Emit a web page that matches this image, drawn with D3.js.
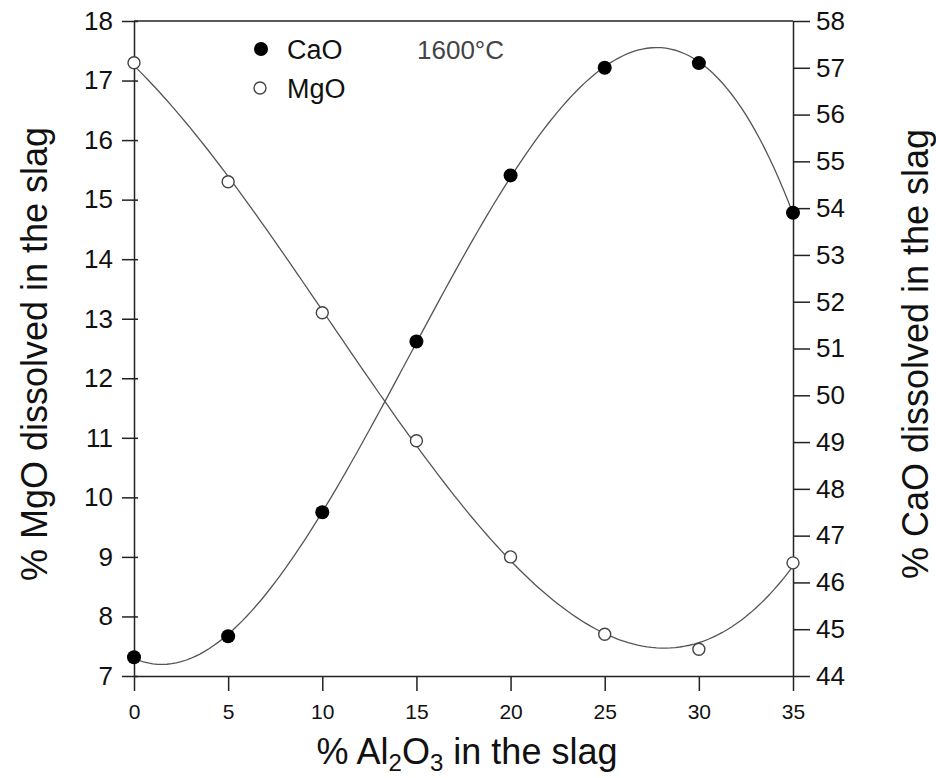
<!DOCTYPE html>
<html>
<head>
<meta charset="utf-8">
<script src="https://cdn.jsdelivr.net/npm/d3@7"></script>
<style>
  body { margin: 0; background: #fff; }
  text { font-family: "Liberation Sans", Arial, sans-serif; }
  .axis path, .axis line { stroke: #222; stroke-width: 1.5; }
</style>
</head>
<body>
<div id="chart"></div>
<script>
 //data
 var alumina = [0, 5, 10, 15, 20, 25, 30, 35];          // % Al2O3 in the slag
 var mgo = [17.3, 15.3, 13.1, 10.95, 9.0, 7.7, 7.45, 8.9]; // left axis
 var cao = [44.4, 44.85, 47.5, 51.15, 54.7, 57.0, 57.1, 53.9]; // right axis
 var xTicks = [0, 5, 10, 15, 20, 25, 30, 35];
 var mgoTicks = [7, 8, 9, 10, 11, 12, 13, 14, 15, 16, 17, 18];
 var caoTicks = [44, 45, 46, 47, 48, 49, 50, 51, 52, 53, 54, 55, 56, 57, 58];

 //size of the picture
 var W = 936, H = 778;
 var margin = { left: 134, right: 143, top: 21, bottom: 102 };
 var width = W - margin.left - margin.right,
     height = H - margin.top - margin.bottom;

 var svg = d3.select("#chart")
     .append("svg")
     .attr("width", W)
     .attr("height", H);

 var g = svg.append("g")
     .attr("transform", "translate(" + margin.left + "," + margin.top + ")");

 //scales
 var xScale = d3.scaleLinear().domain([0, 35]).range([0, width]);
 var yLeft = d3.scaleLinear().domain([7, 18]).range([height, 0]);
 var yRight = d3.scaleLinear().domain([44, 58]).range([height, 0]);

 //least squares cubic fit (trend line of the figure)
 function cubicFit(xs, ys) {
     var n = 4, A = [], i, j, k;
     for (i = 0; i < n; i++) {
         A.push([]);
         for (j = 0; j <= n; j++) A[i].push(0);
     }
     xs.forEach(function (x, p) {
         for (i = 0; i < n; i++) {
             for (j = 0; j < n; j++) A[i][j] += Math.pow(x, i + j);
             A[i][n] += ys[p] * Math.pow(x, i);
         }
     });
     for (i = 0; i < n; i++) {
         var piv = i;
         for (k = i + 1; k < n; k++) if (Math.abs(A[k][i]) > Math.abs(A[piv][i])) piv = k;
         var t = A[i]; A[i] = A[piv]; A[piv] = t;
         for (k = i + 1; k < n; k++) {
             var f = A[k][i] / A[i][i];
             for (j = i; j <= n; j++) A[k][j] -= f * A[i][j];
         }
     }
     var c = [0, 0, 0, 0];
     for (i = n - 1; i >= 0; i--) {
         var s = A[i][n];
         for (j = i + 1; j < n; j++) s -= A[i][j] * c[j];
         c[i] = s / A[i][i];
     }
     return function (x) { return c[0] + c[1] * x + c[2] * x * x + c[3] * x * x * x; };
 }

 var fitMgo = cubicFit(alumina, mgo);
 var fitCao = cubicFit(alumina, cao);
 var xs = d3.range(0, 35.001, 0.25);

 var line = d3.line().curve(d3.curveLinear);

 g.append("path")
     .attr("d", line(xs.map(function (x) { return [xScale(x), yLeft(fitMgo(x))]; })))
     .attr("fill", "none")
     .attr("stroke", "#555")
     .attr("stroke-width", 1.3);

 g.append("path")
     .attr("d", line(xs.map(function (x) { return [xScale(x), yRight(fitCao(x))]; })))
     .attr("fill", "none")
     .attr("stroke", "#555")
     .attr("stroke-width", 1.3);

 //top border
 g.append("line")
     .attr("x1", 0).attr("x2", width)
     .attr("y1", 0).attr("y2", 0)
     .attr("stroke", "#222")
     .attr("stroke-width", 1.5);

 //axes
 var leftAxis = g.append("g")
     .attr("class", "axis")
     .call(d3.axisLeft(yLeft).tickValues(mgoTicks).tickSizeInner(12).tickSizeOuter(0).tickPadding(9));
 leftAxis.selectAll(".tick line").attr("x2", -12).attr("x1", 4);

 var rightAxis = g.append("g")
     .attr("class", "axis")
     .attr("transform", "translate(" + width + ",0)")
     .call(d3.axisRight(yRight).tickValues(caoTicks).tickSizeInner(17).tickSizeOuter(0).tickPadding(6));

 var bottomAxis = g.append("g")
     .attr("class", "axis")
     .attr("transform", "translate(0," + height + ")")
     .call(d3.axisBottom(xScale).tickValues(xTicks).tickSizeInner(15).tickSizeOuter(0).tickPadding(13));

 g.selectAll(".axis text").attr("fill", "#111").attr("font-family", "'Liberation Sans', Arial, sans-serif");
 leftAxis.selectAll("text").attr("font-size", "26px");
 rightAxis.selectAll("text").attr("font-size", "26px");
 bottomAxis.selectAll("text").attr("font-size", "21px");
 g.selectAll(".axis .domain").attr("stroke", "#222");

 //points
 g.selectAll(".mgo")
     .data(alumina)
     .enter()
     .append("circle")
     .attr("class", "mgo")
     .attr("cx", function (d) { return xScale(d); })
     .attr("cy", function (d, i) { return yLeft(mgo[i]); })
     .attr("r", 6)
     .attr("fill", "#fff")
     .attr("stroke", "#444")
     .attr("stroke-width", 1.4);

 g.selectAll(".cao")
     .data(alumina)
     .enter()
     .append("circle")
     .attr("class", "cao")
     .attr("cx", function (d) { return xScale(d); })
     .attr("cy", function (d, i) { return yRight(cao[i]); })
     .attr("r", 7)
     .attr("fill", "#000");

 //legend
 svg.append("circle").attr("cx", 261).attr("cy", 49).attr("r", 7).attr("fill", "#000");
 svg.append("circle").attr("cx", 260).attr("cy", 88).attr("r", 6)
     .attr("fill", "#fff").attr("stroke", "#444").attr("stroke-width", 1.4);
 svg.append("text").attr("x", 287).attr("y", 59).attr("font-size", "27px").attr("fill", "#111").text("CaO");
 svg.append("text").attr("x", 287).attr("y", 98).attr("font-size", "27px").attr("fill", "#111").text("MgO");
 svg.append("text").attr("x", 417).attr("y", 59).attr("font-size", "26px").attr("fill", "#444").text("1600°C");

 //axis titles
 var xt = svg.append("text")
     .attr("x", 467)
     .attr("y", 764)
     .attr("text-anchor", "middle")
     .attr("font-size", "36px")
     .attr("fill", "#111");
 xt.append("tspan").text("% Al");
 xt.append("tspan").attr("font-size", "24px").attr("dy", 7).text("2");
 xt.append("tspan").attr("dy", -7).text("O");
 xt.append("tspan").attr("font-size", "24px").attr("dy", 7).text("3");
 xt.append("tspan").attr("dy", -7).text(" in the slag");

 svg.append("text")
     .attr("transform", "translate(47,354) rotate(-90)")
     .attr("text-anchor", "middle")
     .attr("font-size", "36px")
     .attr("fill", "#111")
     .text("% MgO dissolved in the slag");

 svg.append("text")
     .attr("transform", "translate(928,354) rotate(-90)")
     .attr("text-anchor", "middle")
     .attr("font-size", "36px")
     .attr("fill", "#111")
     .text("% CaO dissolved in the slag");
</script>
</body>
</html>
